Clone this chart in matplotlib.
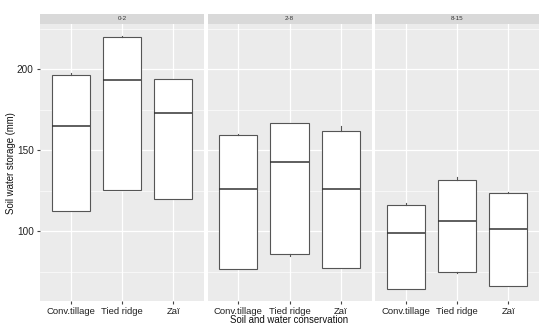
import matplotlib
matplotlib.use("Agg")
import matplotlib.pyplot as plt

plt.rcParams['font.family'] = ['Liberation Sans', 'DejaVu Sans']

# soil depth facets and treatments
depths = ["0-2", "2-8", "8-15"]
treatments = ["Conv.tillage", "Tied ridge", "Zaï"]

# box stats per depth: [Conv.tillage, Tied ridge, Zaï]
whislo = [[112.4, 125.8, 119.9], [76.8, 85.0, 77.2], [64.6, 74.4, 66.2]]
q1 = [[112.4, 125.8, 119.9], [76.8, 86.1, 77.2], [64.6, 75.0, 66.2]]
med = [[165.2, 193.6, 172.8], [126.0, 142.9, 125.9], [98.8, 106.6, 101.5]]
q3 = [[196.5, 219.7, 194.0], [159.6, 166.9, 162.0], [116.6, 131.9, 123.9]]
whishi = [[197.8, 220.3, 194.3], [160.2, 167.2, 164.8], [117.6, 133.4, 124.2]]

yticks = [100, 150, 200]

W, H = 550, 331
fig = plt.figure(figsize=(W / 100, H / 100), dpi=100)

left, pw, gap = 40, 164, 3.5
bottom, top = 301, 24
strip_h = 10

for k, d in enumerate(depths):
    x0 = left + k * (pw + gap)
    ax = fig.add_axes([x0 / W, 1 - bottom / H, pw / W, (bottom - top) / H])
    ax.set_facecolor('#ebebeb')
    stats = []
    for j, t in enumerate(treatments):
        stats.append(dict(whislo=whislo[k][j], q1=q1[k][j], med=med[k][j],
                          q3=q3[k][j], whishi=whishi[k][j], fliers=[]))
    ax.bxp(stats, positions=[1, 2, 3], widths=0.75, patch_artist=True,
           showcaps=False, zorder=3,
           boxprops=dict(facecolor='white', edgecolor='#555555', linewidth=0.8),
           medianprops=dict(color='#333333', linewidth=1.1),
           whiskerprops=dict(color='#555555', linewidth=0.8))
    ax.set_xlim(0.4, 3.6)
    ax.set_ylim(57.1, 228.0)
    ax.set_yticks(yticks)
    ax.set_yticks([75, 125, 175, 225], minor=True)
    ax.grid(True, which='major', color='white', linewidth=0.9, zorder=0)
    ax.grid(True, which='minor', axis='y', color='white', linewidth=0.45, zorder=0)
    ax.set_axisbelow(True)
    for s in ax.spines.values():
        s.set_visible(False)
    ax.set_xticks([1, 2, 3])
    ax.set_xticklabels(treatments, fontsize=6.8, color='#222222')
    ax.tick_params(axis='both', which='major', length=2, color='#444444', pad=2.5)
    ax.tick_params(which='minor', length=0)
    if k == 0:
        ax.set_yticklabels([str(v) for v in yticks], fontsize=7.2, color='#222222')
    else:
        ax.tick_params(axis='y', which='both', left=False, labelleft=False)
    # facet strip
    sax = fig.add_axes([x0 / W, 1 - (top - 0.5) / H, pw / W, strip_h / H])
    sax.set_facecolor('#d9d9d9')
    sax.set_xticks([])
    sax.set_yticks([])
    for s in sax.spines.values():
        s.set_visible(False)
    sax.text(0.5, 0.5, d, ha='center', va='center', fontsize=4.5, color='#333333',
             transform=sax.transAxes)

fig.text((left + 1.5 * pw + gap) / W, 1 - 320 / H, "Soil and water conservation",
         ha='center', va='center', fontsize=6.9, color='#111111')
fig.text(11 / W, 1 - 163 / H, "Soil water storage (mm)", rotation=90,
         ha='center', va='center', fontsize=6.9, color='#111111')

fig.savefig("out.png", dpi=100, facecolor='white')
